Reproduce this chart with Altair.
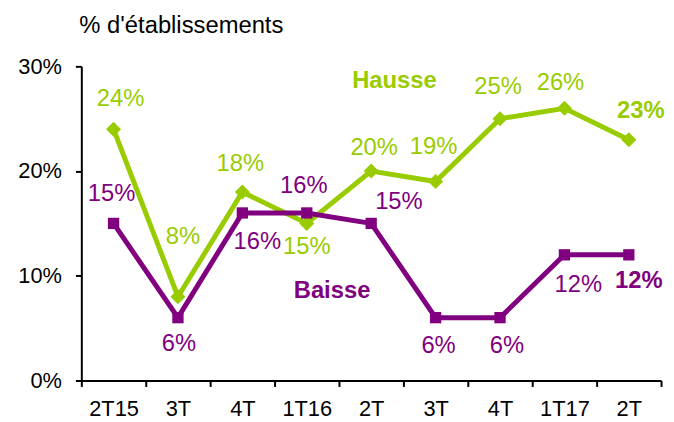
import json
import altair as alt
import pandas as pd

categories = ["2T15", "3T", "4T", "1T16", "2T", "3T", "4T", "1T17", "2T"]
hausse = [24, 8, 18, 15, 20, 19, 25, 26, 23]
baisse = [15, 6, 16, 16, 15, 6, 6, 12, 12]
y_ticks = [0, 10, 20, 30]
title_text = "% d'établissements"

# label placement: pixel offsets of each value label from its point
hausse_dx = [7, 5, -2, 0, 3, -2, -2, -4, 12]
hausse_dy = [-30, -60, -28, 24, -23, -35, -32, -25, -29]
baisse_dx = [-2, 1, 15, -3, 28, 3, 7, 14, 10]
baisse_dy = [-30, 27, 29, -27, -22, 29, 29, 30, 26]

GREEN = "#99CC00"
PURPLE = "#800080"
FONT = "Liberation Sans"

rows = []
for i in range(len(categories)):
    rows.append({"idx": i, "series": "Hausse", "value": hausse[i]})
    rows.append({"idx": i, "series": "Baisse", "value": baisse[i]})
df = pd.DataFrame(rows)

label_expr = json.dumps(categories) + "[datum.value]"

X = alt.X(
    "idx:O",
    scale=alt.Scale(paddingInner=0, paddingOuter=0),
    axis=alt.Axis(
        title=None, labelExpr=label_expr, labelAngle=0, tickBand="extent",
        labelFontSize=22, labelPadding=12,
    ),
)
Y = alt.Y(
    "value:Q",
    scale=alt.Scale(domain=[0, 30], nice=False, zero=True),
    axis=alt.Axis(
        title=None, values=y_ticks, labelExpr="datum.value + '%'",
        labelFontSize=22, labelPadding=14,
    ),
)

base = alt.Chart(df)

layers = []
for name, color, shape, size in [("Hausse", GREEN, "diamond", 230), ("Baisse", PURPLE, "square", 130)]:
    s = base.transform_filter(f"datum.series == '{name}'")
    layers.append(s.mark_line(color=color, strokeWidth=5).encode(x=X, y=Y))
    layers.append(
        s.mark_point(filled=True, opacity=1, color=color, shape=shape, size=size).encode(x=X, y=Y)
    )

n = len(categories)
for name, color, dxs, dys in [("Hausse", GREEN, hausse_dx, hausse_dy), ("Baisse", PURPLE, baisse_dx, baisse_dy)]:
    for i in range(n):
        layers.append(
            base.transform_filter(f"datum.series == '{name}' && datum.idx == {i}")
            .transform_calculate(lbl="datum.value + '%'")
            .mark_text(
                color=color, fontSize=24, font=FONT, dx=dxs[i], dy=dys[i],
                fontWeight="bold" if i == n - 1 else "normal",
                align="center", baseline="middle",
            )
            .encode(x=X, y=Y, text="lbl:N")
        )

names = pd.DataFrame({"t": ["Hausse", "Baisse"], "c": [GREEN, PURPLE],
                      "px": [316, 253], "py": [15, 227]})
for j in range(2):
    layers.append(
        alt.Chart(names.iloc[[j]])
        .mark_text(fontSize=24, font=FONT, fontWeight="bold", color=names["c"][j],
                   align="center", baseline="middle")
        .encode(x=alt.value(int(names["px"][j])), y=alt.value(int(names["py"][j])), text="t:N")
    )

layers.append(
    alt.Chart(pd.DataFrame({"t": [title_text]}))
    .mark_text(fontSize=24, font=FONT, color="black", align="left", baseline="middle")
    .encode(x=alt.value(-2), y=alt.value(-41), text="t:N")
)

chart = (
    alt.layer(*layers)
    .properties(
        width=585, height=317,
        autosize=alt.AutoSizeParams(type="none"),
        padding={"left": 74, "top": 57, "right": 5, "bottom": 40},
    )
    .configure_view(stroke=None)
    .configure_axis(
        grid=False, domainColor="black", domainWidth=2, tickColor="black",
        tickWidth=2, tickSize=6, labelColor="black", labelFont=FONT,
    )
)

chart.save("out.html", embed_options={"renderer": "svg", "actions": False})
